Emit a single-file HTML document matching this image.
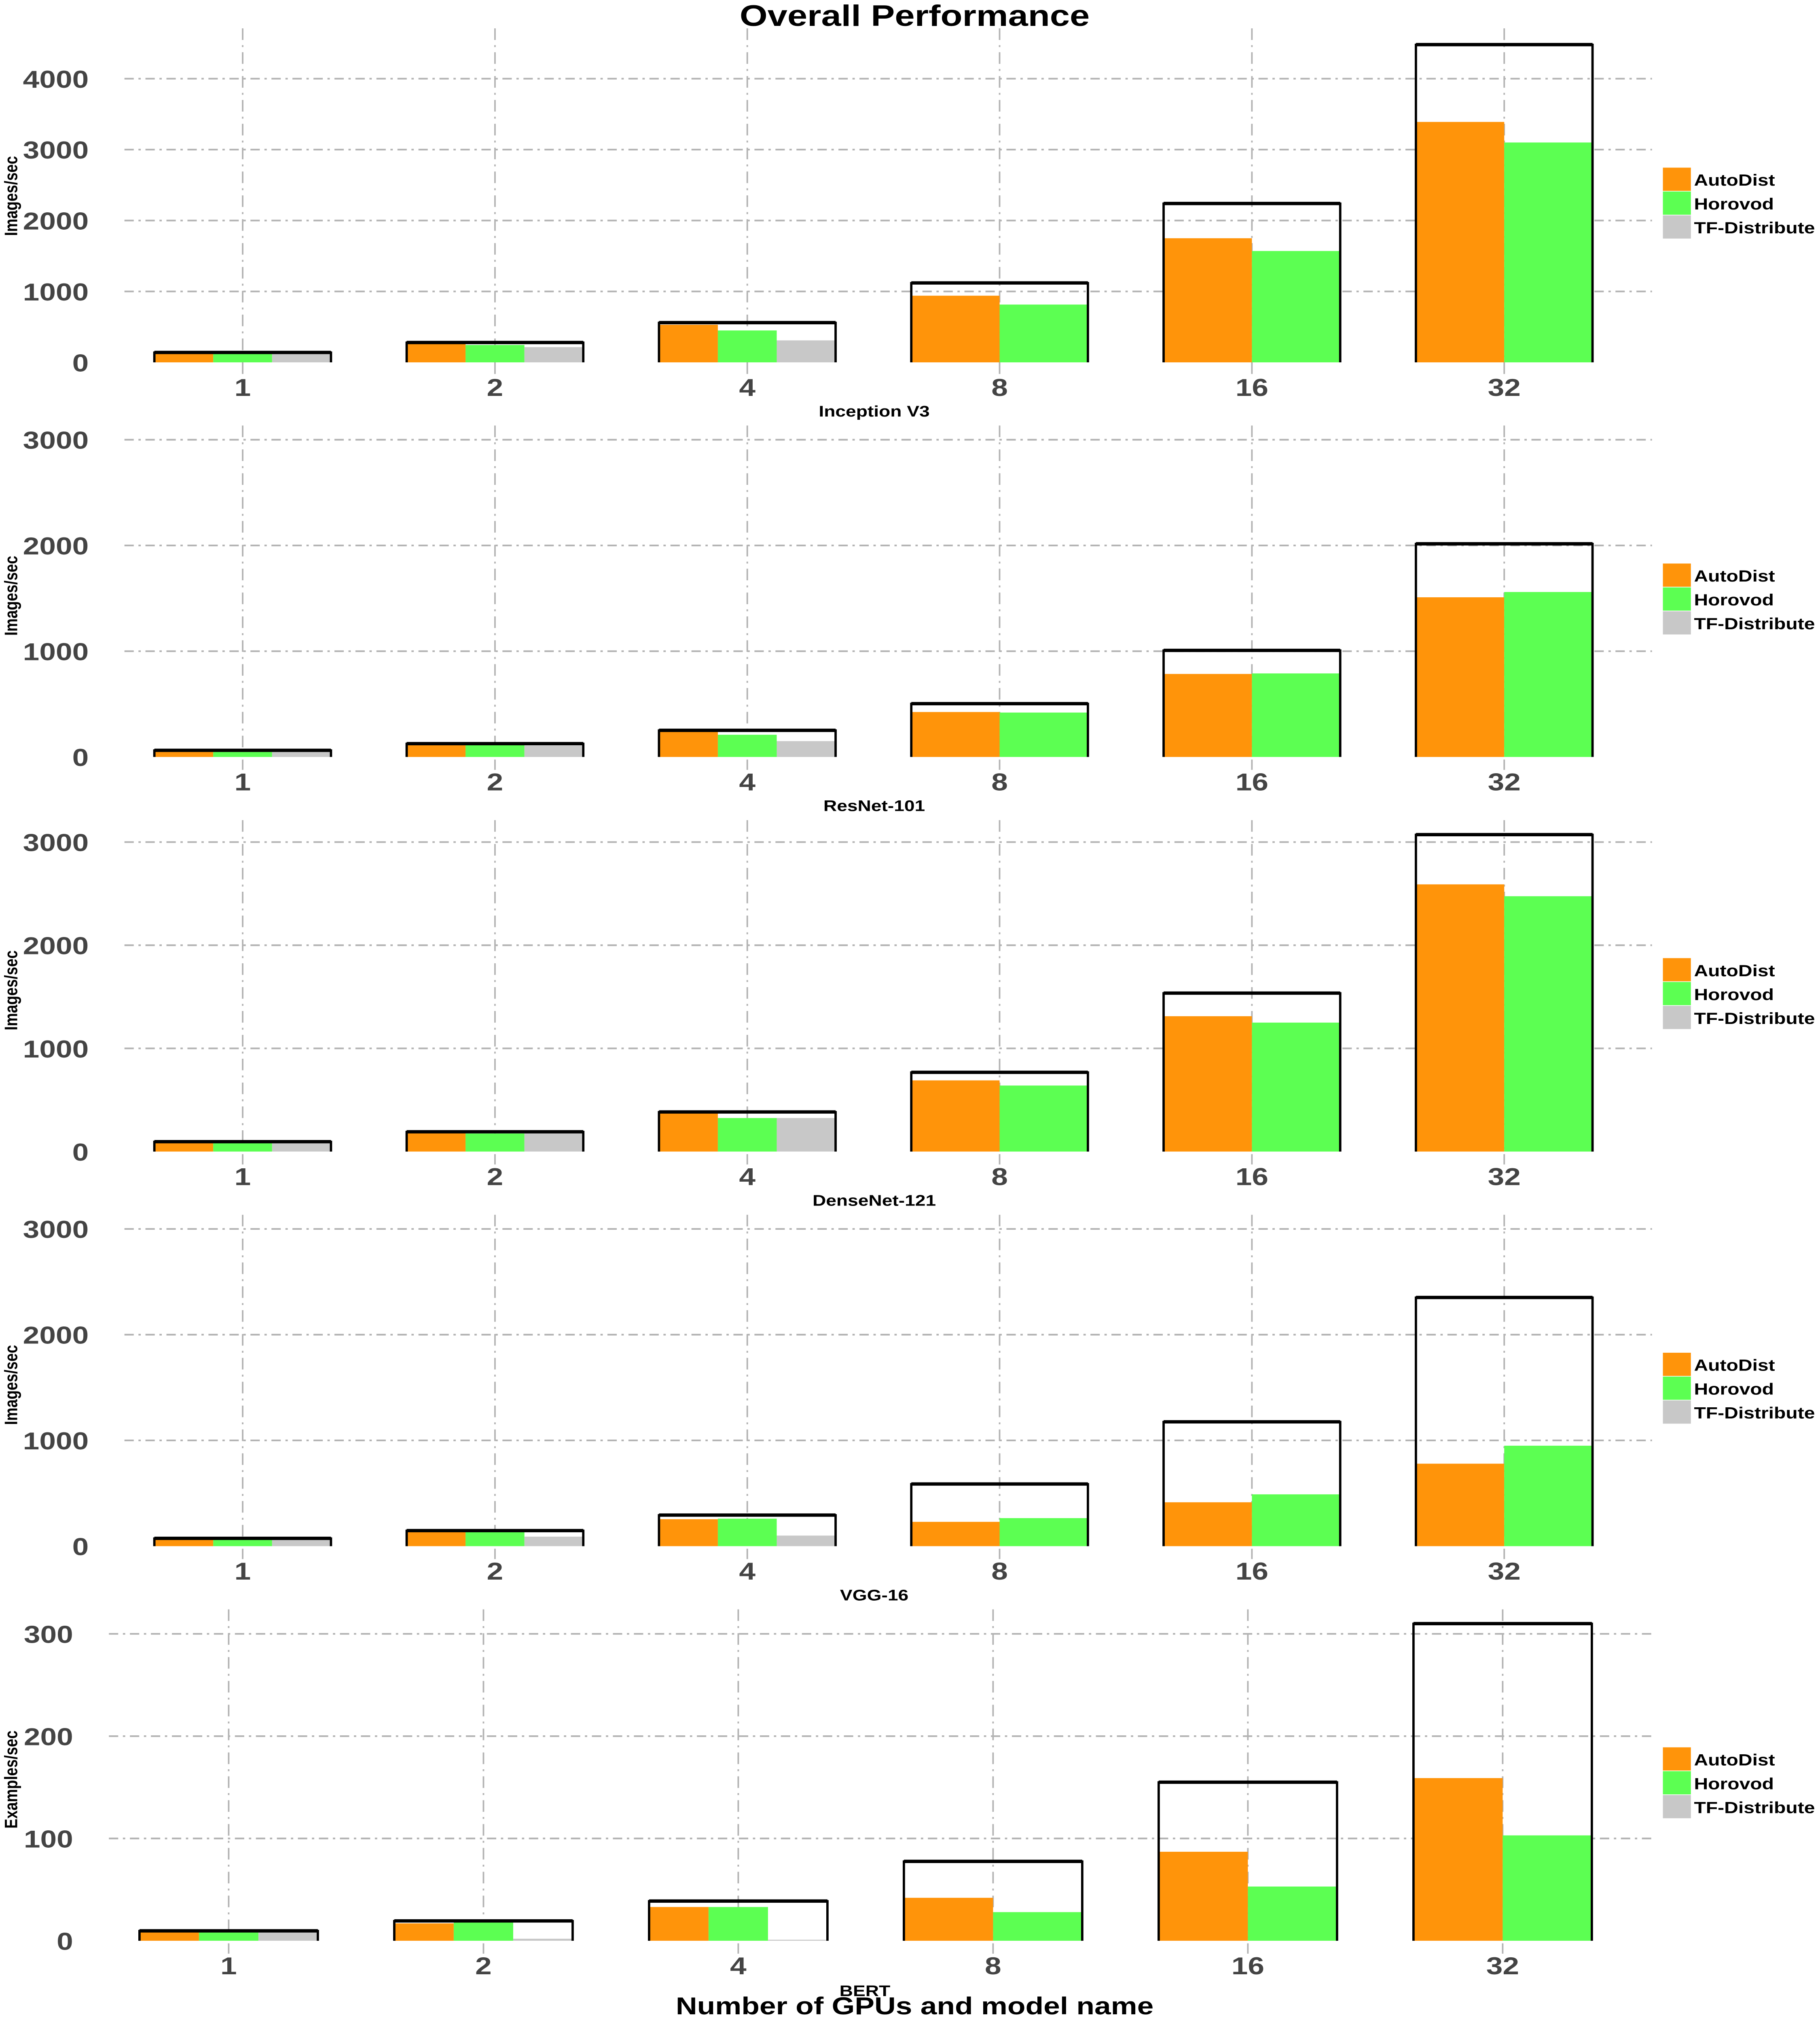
<!DOCTYPE html>
<html><head><meta charset="utf-8"><style>
html,body{margin:0;padding:0;background:#fff;width:100vw;height:100vh;overflow:hidden;}
svg{display:block;position:absolute;left:0;top:0;width:100vw;height:100vh;}
text{font-family:"Liberation Sans",sans-serif;font-weight:bold;}
</style></head><body>
<svg id="chart" viewBox="0 0 1170 1568" preserveAspectRatio="none" xmlns="http://www.w3.org/2000/svg">
<text x="588" y="20" text-anchor="middle" font-size="23" fill="#000">Overall Performance</text>
<text x="588" y="1562" text-anchor="middle" font-size="19" fill="#000">Number of GPUs and model name</text>
</svg>
<script>
const categories = ["1","2","4","8","16","32"];
const modelNames = ["Inception V3","ResNet-101","DenseNet-121","VGG-16","BERT"];
const yTitles = ["Images/sec","Images/sec","Images/sec","Images/sec","Examples/sec"];
const seriesNames = ["AutoDist","Horovod","TF-Distribute"];
const incAuto = [135,270,530,940,1750,3390];
const incHoro = [135,245,450,815,1570,3100];
const incTF = [135,215,310,0,0,0];
const incIdeal = [140,280,560,1120,2240,4480];
const resAuto = [63,128,245,425,785,1510];
const resHoro = [62,124,210,420,790,1560];
const resTF = [60,108,150,0,0,0];
const resIdeal = [63,126,252,504,1008,2016];
const denAuto = [95,192,385,690,1312,2590];
const denHoro = [93,175,325,640,1250,2475];
const denTF = [95,190,325,0,0,0];
const denIdeal = [96,192,384,768,1536,3072];
const vggAuto = [73,145,255,230,415,780];
const vggHoro = [73,145,260,265,490,950];
const vggTF = [73,90,100,0,0,0];
const vggIdeal = [74,147,294,588,1176,2352];
const bertAuto = [10,17,33,42,87,159];
const bertHoro = [9,18,33,28,53,103];
const bertTF = [9,2,1,0,0,0];
const bertIdeal = [9.7,19.4,38.8,77.6,155,310];
const incTicks = [0,1000,2000,3000,4000];
const resTicks = [0,1000,2000,3000];
const denTicks = [0,1000,2000,3000];
const vggTicks = [0,1000,2000,3000];
const bertTicks = [0,100,200,300];

const NS="http://www.w3.org/2000/svg";
const svg=document.getElementById('chart');
function mk(tag,attrs,parent){const e=document.createElementNS(NS,tag);for(const k in attrs)e.setAttribute(k,attrs[k]);(parent||svg).appendChild(e);return e;}
const colors=["#ff940a","#5cff52","#c8c8c8"];
const panels=[
 {a:incAuto,h:incHoro,t:incTF,i:incIdeal,ticks:incTicks,zero:281,max:4000,maxY:61,x0:156,dx:162.2,left:80,top:22,sub:318,ytitle:152,leg:130},
 {a:resAuto,h:resHoro,t:resTF,i:resIdeal,ticks:resTicks,zero:587,max:3000,maxY:341,x0:156,dx:162.2,left:80,top:330,sub:624,ytitle:462,leg:437},
 {a:denAuto,h:denHoro,t:denTF,i:denIdeal,ticks:denTicks,zero:893,max:3000,maxY:653,x0:156,dx:162.2,left:80,top:636,sub:930,ytitle:768,leg:743},
 {a:vggAuto,h:vggHoro,t:vggTF,i:vggIdeal,ticks:vggTicks,zero:1199,max:3000,maxY:953,x0:156,dx:162.2,left:80,top:942,sub:1236,ytitle:1074,leg:1049},
 {a:bertAuto,h:bertHoro,t:bertTF,i:bertIdeal,ticks:bertTicks,zero:1505,max:300,maxY:1267,x0:147,dx:163.8,left:70,top:1248,sub:1543,ytitle:1380,leg:1355}
];
panels.forEach((p,pi)=>{
 const g=mk('g',{});
 
 
 const y=v=>p.zero-(v/p.max)*(p.zero-p.maxY);
 const x=i=>p.x0+i*p.dx;
 const bw=p.dx*0.7;
 p.ticks.forEach(t=>{
  const yy=y(t);
  if(t>0){const l=mk('line',{x1:p.left,x2:1062,y1:yy,y2:yy,stroke:'#b3b3b3','stroke-width':1.3,'stroke-dasharray':'6 3 1.5 3'},g);
   
   }
  const tx=mk('text',{x:p.left-23,y:yy+7,'text-anchor':'end','font-size':19,fill:'#444'},g);
  
  
  tx.textContent=t;
 });
 categories.forEach((c,i)=>{
  const l=mk('line',{x1:x(i),x2:x(i),y1:p.top,y2:p.zero+10,stroke:'#b3b3b3','stroke-width':1,'stroke-dasharray':'9 4 1.5 4'},g);
  
  
 });
 categories.forEach((c,i)=>{
  const vals=[p.a[i],p.h[i],p.t[i]];
  const n=p.t[i]>0?3:2;
  const sw=bw/n;
  const x1=x(i)-bw/2;
  for(let s=0;s<n;s++){
   const r=mk('rect',{x:x1+s*sw,y:y(vals[s]),width:sw,height:p.zero-y(vals[s]),fill:colors[s]},g);
   
   
  }
  const yi=y(p.i[i]);
  const b=mk('path',{d:`M${x1},${p.zero} L${x1},${yi} L${x1+bw},${yi} L${x1+bw},${p.zero}`,fill:'none',stroke:'#000','stroke-width':1.5},g);
  
  
  const tl=mk('line',{x1:x1,x2:x1+bw,y1:yi,y2:yi,stroke:'#000','stroke-width':2.6},g);
  
  
  const tx=mk('text',{x:x(i),y:p.zero+26,'text-anchor':'middle','font-size':19,fill:'#444'},g);
  
  
  tx.textContent=c;
 });
 const st=mk('text',{x:(pi==4?556:562),y:p.sub+5,'text-anchor':'middle','font-size':12,fill:'#000'},g);
 
 
 st.textContent=modelNames[pi];
 const yt=mk('text',{x:0,y:0,'text-anchor':'middle','font-size':11.5,fill:'#000',transform:`translate(11,${p.ytitle}) rotate(-90)`},g);
 
 
 yt.textContent=yTitles[pi];
 seriesNames.forEach((sn,s)=>{
  const ly=p.leg+s*18.5;
  const r=mk('rect',{x:1069,y:ly,width:18,height:18,fill:colors[s]},g);
  
  
  const t=mk('text',{x:1089,y:ly+14,'font-size':12.5,fill:'#000'},g);
  
  
  t.textContent=sn;
 });
});
</script>
</body></html>
